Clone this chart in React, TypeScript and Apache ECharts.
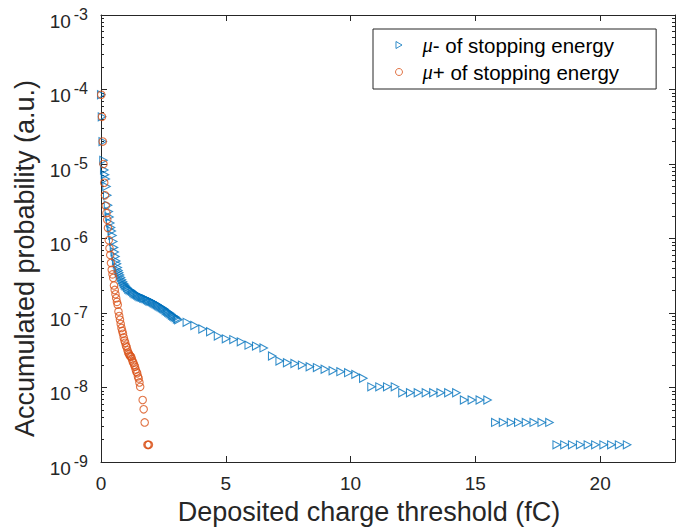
import React, { useEffect, useRef } from 'react';
import * as echarts from 'echarts';

// ---- data ----
const muMinusX = [
  0.01, 0.04, 0.07, 0.10, 0.13, 0.16, 0.19, 0.22, 0.25, 0.28, 0.31, 0.34, 0.37, 0.40, 0.43, 0.46,
  0.49, 0.52, 0.55, 0.58, 0.61, 0.64, 0.67, 0.70, 0.73, 0.76,
  0.80, 0.84, 0.88, 0.92, 0.96, 1.00,
  1.05, 1.10, 1.15, 1.20, 1.25, 1.30, 1.35, 1.40, 1.45, 1.50, 1.55, 1.60, 1.65, 1.70, 1.75, 1.80,
  1.85, 1.90, 1.95, 2.00, 2.05, 2.10, 2.15, 2.20, 2.25, 2.30, 2.35, 2.40, 2.45, 2.50, 2.55, 2.60,
  2.65, 2.70, 2.75, 2.80, 2.85, 2.90, 2.95, 3.00, 3.05, 3.10,
  3.44, 3.75, 4.07, 4.38, 4.69, 5.01, 5.31, 5.61, 5.92, 6.22, 6.52,
  6.86, 7.16, 7.46, 7.76, 8.06, 8.37, 8.66, 8.97, 9.29, 9.60, 9.91, 10.20, 10.51,
  10.84, 11.16, 11.47, 11.78,
  12.08, 12.39, 12.70, 13.02, 13.32, 13.61, 13.92, 14.24,
  14.55, 14.86, 15.18, 15.49,
  15.80, 16.11, 16.43, 16.72, 17.03, 17.34, 17.66, 17.97,
  18.26, 18.57, 18.88, 19.20, 19.51, 19.81, 20.14, 20.45, 20.76, 21.08,
];
const muMinusY = [
  8.5e-5, 4.3e-5, 2.0e-5, 1.12e-5, 8.3e-6, 7.2e-6, 6.3e-6, 5.0e-6, 3.8e-6, 2.8e-6, 2.3e-6, 1.95e-6,
  1.62e-6, 1.41e-6, 1.26e-6, 1.1e-6, 9.1e-7, 7.6e-7, 6.6e-7, 5.75e-7, 5.0e-7, 4.57e-7, 4.07e-7,
  3.72e-7, 3.47e-7, 3.24e-7,
  3.0e-7, 2.79e-7, 2.63e-7, 2.48e-7, 2.37e-7, 2.29e-7,
  2.19e-7, 2.09e-7, 2.04e-7, 2.0e-7, 1.95e-7, 1.88e-7, 1.82e-7, 1.78e-7, 1.74e-7, 1.7e-7, 1.66e-7,
  1.64e-7, 1.62e-7, 1.58e-7, 1.57e-7, 1.55e-7, 1.51e-7, 1.48e-7, 1.45e-7, 1.43e-7, 1.41e-7, 1.38e-7,
  1.35e-7, 1.32e-7, 1.29e-7, 1.26e-7, 1.23e-7, 1.2e-7, 1.17e-7, 1.15e-7, 1.12e-7, 1.08e-7, 1.05e-7,
  1.02e-7, 1.0e-7, 9.7e-8, 9.3e-8, 9.1e-8, 8.9e-8, 8.7e-8, 8.3e-8, 8.1e-8,
  7.5e-8, 6.8e-8, 6.1e-8, 5.6e-8, 4.9e-8, 4.5e-8, 4.4e-8, 4.1e-8, 3.7e-8, 3.6e-8, 3.4e-8,
  2.65e-8, 2.27e-8, 2.15e-8, 2.1e-8, 2.0e-8, 1.9e-8, 1.85e-8, 1.76e-8, 1.68e-8, 1.63e-8, 1.58e-8, 1.5e-8, 1.33e-8,
  1.02e-8, 1.02e-8, 1.02e-8, 1.02e-8,
  8.5e-9, 8.5e-9, 8.5e-9, 8.5e-9, 8.5e-9, 8.5e-9, 8.5e-9, 8.5e-9,
  6.8e-9, 6.8e-9, 6.8e-9, 6.8e-9,
  3.4e-9, 3.4e-9, 3.4e-9, 3.4e-9, 3.4e-9, 3.4e-9, 3.4e-9, 3.4e-9,
  1.7e-9, 1.7e-9, 1.7e-9, 1.7e-9, 1.7e-9, 1.7e-9, 1.7e-9, 1.7e-9, 1.7e-9, 1.7e-9,
];
const muPlusX = [
  0.01, 0.04, 0.07, 0.10, 0.13, 0.16, 0.19, 0.22, 0.25, 0.28, 0.31, 0.34, 0.37, 0.40, 0.43, 0.46,
  0.49, 0.52, 0.55, 0.58, 0.61, 0.64, 0.67, 0.70, 0.73, 0.76, 0.79, 0.82, 0.85, 0.88, 0.91, 0.94,
  0.97, 1.00, 1.03, 1.06, 1.09, 1.12, 1.15, 1.18, 1.21, 1.24, 1.27, 1.30, 1.33, 1.36, 1.39, 1.42,
  1.45, 1.48, 1.51, 1.54, 1.57,
  1.67, 1.71, 1.75, 1.86, 1.89, 1.92,
];
const muPlusY = [
  8.5e-5, 4.3e-5, 2.0e-5, 1.0e-5, 5.6e-6, 3.8e-6, 2.75e-6, 2.19e-6, 1.78e-6, 1.38e-6, 9.5e-7, 7.4e-7,
  6.0e-7, 4.7e-7, 3.8e-7, 3.3e-7, 2.95e-7, 2.34e-7, 2.04e-7, 1.78e-7, 1.58e-7, 1.41e-7, 1.29e-7,
  1.05e-7, 9.1e-8, 8.1e-8, 7.1e-8, 6.3e-8, 5.75e-8, 5.25e-8, 4.7e-8, 4.27e-8, 3.98e-8, 3.63e-8,
  3.47e-8, 3.16e-8, 2.95e-8, 2.82e-8, 2.69e-8, 2.63e-8, 2.57e-8, 2.4e-8, 2.24e-8, 2.14e-8, 2.0e-8,
  1.9e-8, 1.74e-8, 1.62e-8, 1.55e-8, 1.41e-8, 1.32e-8, 1.17e-8, 1.02e-8,
  6.8e-9, 5.1e-9, 3.4e-9, 1.7e-9, 1.7e-9, 1.7e-9,
];
const seriesNames = ['μ- of stopping energy', 'μ+ of stopping energy'];
const xTickValues = [0, 5, 10, 15, 20];
const yDecadeExponents = [-9, -8, -7, -6, -5, -4, -3];

const AXIS = '#262626';
const FONT = 'Liberation Sans, Arial, Helvetica, sans-serif';

export default function App() {
  const ref = useRef<HTMLDivElement>(null);
  useEffect(() => {
    if (!ref.current) return;
    const chart = echarts.init(ref.current, undefined, { renderer: 'svg' });

    const minorLog: number[] = [];
    for (let i = 0; i < yDecadeExponents.length - 1; i++) {
      for (let k = 2; k <= 9; k++) minorLog.push(yDecadeExponents[i] + Math.log10(k));
    }
    const line = { color: AXIS, width: 1 };

    const decadeAxis = (position: 'left' | 'right', withLabels: boolean) => ({
      type: 'value',
      position,
      min: -9,
      max: -3,
      interval: 1,
      axisLine: { show: true, lineStyle: line },
      axisTick: { show: true, inside: true, length: 6, lineStyle: line },
      axisLabel: withLabels
        ? {
            show: true,
            margin: 13,
            formatter: (v: number) => `{b|10}{s|${v}}`,
            rich: {
              b: { fontSize: 19, fontFamily: FONT, color: AXIS, padding: [12, 0, 0, 0] },
              s: { fontSize: 16, fontFamily: FONT, color: AXIS, padding: [0, 0, 2, 3] },
            },
          }
        : { show: false },
      splitLine: { show: false },
    });
    const minorAxis = (position: 'left' | 'right') => ({
      type: 'value',
      position,
      min: -9,
      max: -3,
      axisLine: { show: false },
      axisTick: { show: true, inside: true, length: 3, customValues: minorLog, lineStyle: line },
      axisLabel: { show: false },
      splitLine: { show: false },
    });

    chart.setOption({
      animation: false,
      backgroundColor: '#ffffff',
      grid: { left: 101, top: 15, width: 574, height: 447, containLabel: false },
      legend: {
        data: [
          { name: seriesNames[0], icon: 'path://M0,0L8.66,5L0,10Z' },
          { name: seriesNames[1], icon: 'circle' },
        ],
        orient: 'vertical',
        left: 373,
        top: 29,
        padding: [5, 37, 6, 22],
        itemWidth: 7,
        itemHeight: 7,
        itemGap: 5,
        borderColor: AXIS,
        borderWidth: 1,
        backgroundColor: '#ffffff',
        selectedMode: false,
        itemStyle: { borderWidth: 1 },
        formatter: (n: string) => `{g| }{i|μ}${n.slice(1)}`,
        textStyle: {
          fontSize: 20.5,
          fontFamily: FONT,
          color: '#000',
          lineHeight: 22,
          rich: {
            g: { width: 15, fontSize: 20.5, lineHeight: 22 },
            i: { fontSize: 20.5, fontStyle: 'italic', fontFamily: 'Liberation Serif, serif', color: '#000', lineHeight: 22 },
          },
        },
      },
      xAxis: [
        {
          type: 'value',
          position: 'bottom',
          min: 0,
          max: 23,
          axisLine: { show: true, onZero: false, lineStyle: line },
          axisTick: { show: true, inside: true, length: 6, customValues: xTickValues, lineStyle: line },
          axisLabel: { show: true, customValues: xTickValues, fontSize: 19, fontFamily: FONT, color: AXIS, margin: 12 },
          splitLine: { show: false },
          name: 'Deposited charge threshold (fC)',
          nameLocation: 'middle',
          nameGap: 36,
          nameTextStyle: { fontSize: 27, fontFamily: FONT, color: AXIS, padding: [0, 38, 0, 0] },
        },
        {
          type: 'value',
          position: 'top',
          min: 0,
          max: 23,
          axisLine: { show: true, onZero: false, lineStyle: line },
          axisTick: { show: true, inside: true, length: 6, customValues: xTickValues, lineStyle: line },
          axisLabel: { show: false },
          splitLine: { show: false },
        },
      ],
      yAxis: [
        { type: 'log', logBase: 10, min: 1e-9, max: 1e-3, show: false, splitLine: { show: false } },
        {
          ...decadeAxis('left', true),
          name: 'Accumulated probability (a.u.)',
          nameLocation: 'middle',
          nameGap: 62,
          nameRotate: 90,
          nameTextStyle: { fontSize: 27, fontFamily: FONT, color: AXIS, padding: [0, 40, 0, 0] },
        },
        minorAxis('left'),
        decadeAxis('right', false),
        minorAxis('right'),
      ],
      series: [
        {
          name: seriesNames[0],
          type: 'scatter',
          xAxisIndex: 0,
          yAxisIndex: 0,
          silent: true,
          symbol: 'triangle',
          symbolRotate: -90,
          symbolSize: [8, 7.5],
          itemStyle: { color: 'rgba(0,0,0,0)', borderColor: '#0072BD', borderWidth: 1.1 },
          data: muMinusX.map((x, i) => [x, muMinusY[i]]),
        },
        {
          name: seriesNames[1],
          type: 'scatter',
          xAxisIndex: 0,
          yAxisIndex: 0,
          silent: true,
          symbol: 'circle',
          symbolSize: 7.5,
          itemStyle: { color: 'rgba(0,0,0,0)', borderColor: '#D95319', borderWidth: 1.1 },
          data: muPlusX.map((x, i) => [x, muPlusY[i]]),
        },
      ],
    });
    return () => chart.dispose();
  }, []);
  return (
    <div
      ref={ref}
      style={{ position: 'fixed', left: 0, top: 0, width: 690, height: 531, background: '#fff' }}
    />
  );
}
